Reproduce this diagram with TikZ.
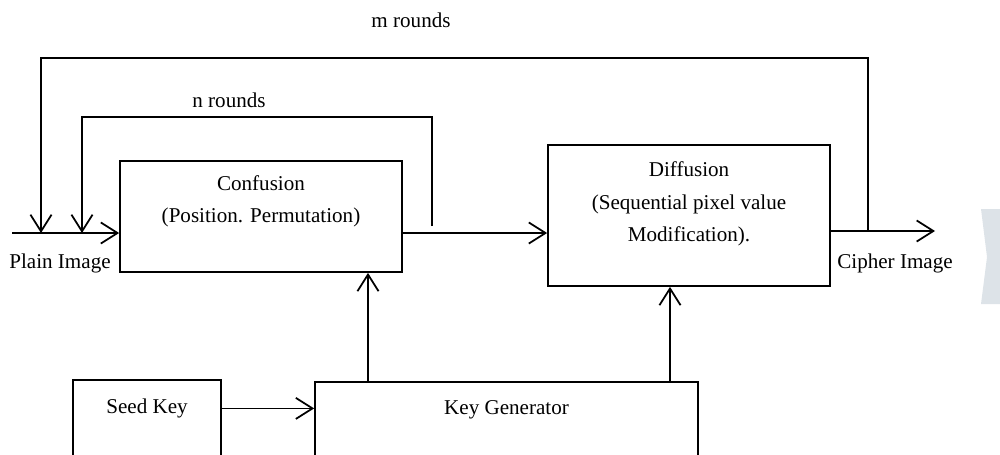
\documentclass[tikz,border=0pt]{standalone}
\usepackage{fontspec}
\setmainfont{Liberation Serif}
\usepackage{xcolor}
\usetikzlibrary{positioning,calc,arrows.meta}

\definecolor{chevrongray}{RGB}{221,227,232}

\begin{document}
\begin{tikzpicture}[x=0.02cm,y=-0.02cm,
    every node/.style={font=\fontsize{12}{18.5}\selectfont},
    block/.style={draw,line width=1pt,inner sep=0pt},
    boxtext/.style={align=center,inner sep=0pt},
    arr/.style={line width=1pt,-{Straight Barb[length=9.5pt,width=12pt,line width=1pt]}}]
    \useasboundingbox (0,0) rectangle (1000,454);

    % Boxes
    \node (conf) [block,minimum width=5.64cm,minimum height=2.22cm] at (261,216.5) {};
    \node (conftext) [boxtext,below=8.5pt of conf.north] {Confusion\\(Position. Permutation)};
    \node (diff) [block,minimum width=5.64cm,minimum height=2.82cm] at (689,215.5) {};
    \node (difftext) [boxtext,below=10pt of diff.north] {Diffusion\\(Sequential pixel value\\Modification).};
    \node (seed) [block,minimum width=2.96cm,minimum height=2cm] at (147,430) {};
    \node (seedtext) [boxtext,below=11pt of seed.north] {Seed Key};
    \node (keygen) [block,minimum width=7.66cm,minimum height=2cm] at (506.5,432) {};
    \node (keygentext) [boxtext,below=11pt of keygen.north] {Key Generator};

    % Labels
    \node (plain) at (60,263) {Plain Image};
    \node (cipher) at (895,263) {Cipher Image};
    \node (mrounds) at (411,20) {m rounds};
    \node (nrounds) at (229,100) {n rounds};

    % Main line
    \coordinate (plainin) at (12,233);
    \coordinate (cipherout) at (935,231);
    \draw [arr] (plainin) -- (plainin -| conf.west);
    \draw [arr] (plainin -| conf.east) -- (plainin -| diff.west);
    \draw [arr] (cipherout -| diff.east) -- (cipherout);

    % m rounds loop
    \coordinate (mtap) at (868,231);
    \coordinate (mtop) at (41,58);
    \draw [arr] (mtap) |- (mtop) -- (mtop |- plainin);

    % n rounds loop
    \coordinate (ntap) at (432,226);
    \coordinate (ntop) at (82,117);
    \draw [arr] (ntap) |- (ntop) -- (ntop |- plainin);

    % Keys
    \draw [arr] (seedtext -| seed.east) -- (seedtext -| keygen.west);
    \coordinate (kgtap1) at (368,0 |- keygen.north);
    \coordinate (kgtap2) at (670,0 |- keygen.north);
    \draw [arr] (kgtap1) -- (kgtap1 |- conf.south);
    \draw [arr] (kgtap2) -- (kgtap2 |- diff.south);

    % Chevron at the edge
    \fill [chevrongray] (981,209) -- (1000,209) -- (1000,304) -- (981,304) -- (987,257) -- cycle;
\end{tikzpicture}
\end{document}
